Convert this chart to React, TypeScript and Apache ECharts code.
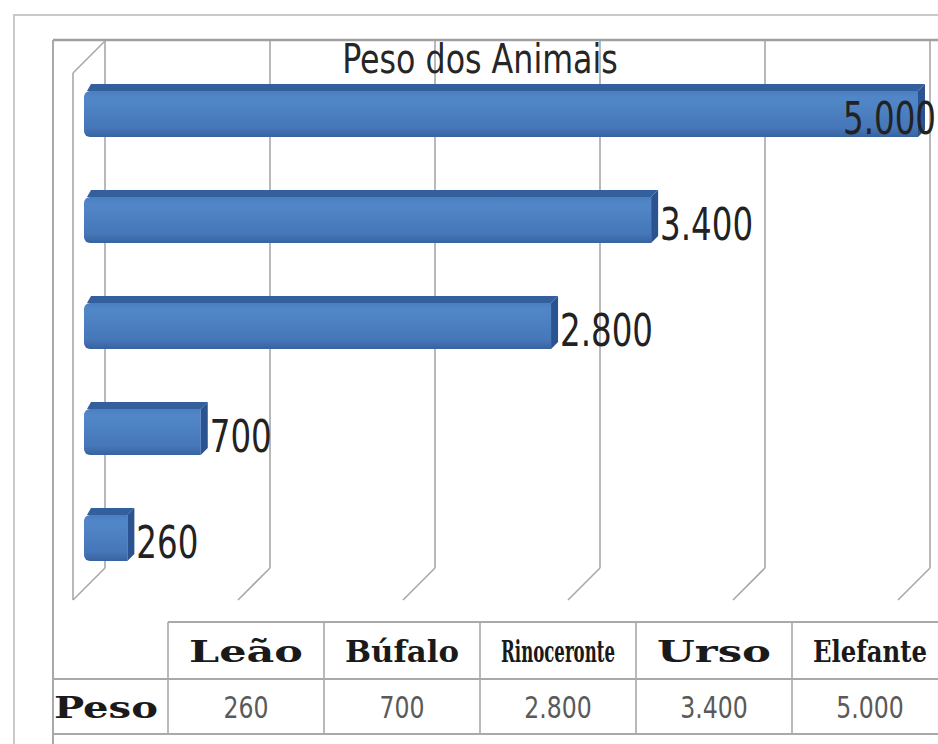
import React, { useEffect, useRef } from "react";
import * as echarts from "echarts";

const categories = ["Leão", "Búfalo", "Rinoceronte", "Urso", "Elefante"];
const weights = [260, 700, 2800, 3400, 5000];
const axisTicks = [0, 1000, 2000, 3000, 4000, 5000];
const chartTitle = "Peso dos Animais";
const rowLabel = "Peso";

const fmt = (v: number) => String(v).replace(/\B(?=(\d{3})+(?!\d))/g, ".");

const W = 938;
const H = 744;
const DEPTH = 7;
const WALL = 32;
const BAR_H = 46;
const NARROW = "'Liberation Sans Narrow', 'DejaVu Sans Condensed', 'Arial Narrow', sans-serif";
const SERIF = "'DejaVu Serif', 'Liberation Serif', serif";
const GRID_COLOR = "#a8a8a8";
const LINE_COLOR = "#a9a9a9";

let ctx: CanvasRenderingContext2D | null = null;
function measure(text: string, font: string): number {
  if (!ctx) ctx = document.createElement("canvas").getContext("2d");
  if (!ctx) return text.length * 10;
  ctx.font = font;
  return ctx.measureText(text).width;
}

export default function App() {
  const ref = useRef<HTMLDivElement>(null);

  useEffect(() => {
    if (!ref.current) return;
    const chart = echarts.init(ref.current, undefined, { renderer: "svg" });

    const LABEL_SIZE = 44;
    const labelFont = `${LABEL_SIZE}px ${NARROW}`;
    const labelScale = 93 / measure("3.400", labelFont);

    const titleFont = `41px ${NARROW}`;
    const titleScale = 276 / measure(chartTitle, titleFont);

    // table layout
    const tLeft = 168;
    const colW = 156;
    const frameLeft = 53;
    const hTop = 622;
    const hMid = 679;
    const hBot = 734;
    const headFontSize = 29;
    const headFont = `bold ${headFontSize}px ${SERIF}`;
    const numFont = `31px ${NARROW}`;
    const numScale = 45 / measure("260", numFont);

    const tableEls: any[] = [];
    tableEls.push({ type: "line", shape: { x1: tLeft, y1: hTop, x2: W + 5, y2: hTop }, style: { stroke: LINE_COLOR, lineWidth: 2 } });
    tableEls.push({ type: "line", shape: { x1: frameLeft, y1: hMid, x2: W + 5, y2: hMid }, style: { stroke: LINE_COLOR, lineWidth: 2 } });
    tableEls.push({ type: "line", shape: { x1: frameLeft, y1: hBot, x2: W + 5, y2: hBot }, style: { stroke: LINE_COLOR, lineWidth: 2 } });
    for (let i = 0; i < categories.length; i++) {
      const x = tLeft + i * colW;
      tableEls.push({ type: "line", shape: { x1: x, y1: hTop, x2: x, y2: hBot }, style: { stroke: LINE_COLOR, lineWidth: 1.6 } });
      const cx = x + colW / 2;
      const tw = measure(categories[i], headFont);
      tableEls.push({
        type: "text",
        x: cx,
        y: 652,
        scaleX: 114 / tw,
        style: { text: categories[i], x: 0, y: 0, align: "center", verticalAlign: "middle", font: headFont, fill: "#1a1a1a" },
      });
      tableEls.push({
        type: "text",
        x: cx,
        y: 707,
        scaleX: numScale,
        style: { text: fmt(weights[i]), x: 0, y: 0, align: "center", verticalAlign: "middle", font: numFont, fill: "#5a5a5a" },
      });
    }
    {
      const tw = measure(rowLabel, headFont);
      tableEls.push({
        type: "text",
        x: frameLeft + 1,
        y: 708,
        scaleX: 104 / tw,
        style: { text: rowLabel, x: 0, y: 0, align: "left", verticalAlign: "middle", font: headFont, fill: "#1a1a1a" },
      });
    }

    const option: any = {
      animation: false,
      backgroundColor: "#ffffff",
      grid: [
        { left: 105, right: 8, top: 41, bottom: 176 },
        { left: 84, right: 20, top: 61, bottom: 153 },
      ],
      xAxis: [
        {
          gridIndex: 0,
          type: "value",
          min: 0,
          max: 5000,
          interval: 1000,
          axisLine: { show: false },
          axisTick: { show: false },
          axisLabel: { show: false },
          splitLine: { show: true, lineStyle: { color: GRID_COLOR, width: 1.6 } },
        },
        { gridIndex: 1, type: "value", min: 0, max: 5000, show: false, splitLine: { show: false } },
      ],
      yAxis: [
        { gridIndex: 0, type: "value", min: 0, max: 1, show: false, splitLine: { show: false } },
        { gridIndex: 1, type: "category", data: categories, show: false },
      ],
      graphic: [
        { type: "rect", shape: { x: 14, y: 15, width: W, height: H }, style: { fill: "none", stroke: "#c9c9c9", lineWidth: 2 }, silent: true },
        { type: "line", shape: { x1: frameLeft, y1: 40, x2: W + 5, y2: 40 }, style: { stroke: "#a0a0a0", lineWidth: 2.5 } },
        { type: "line", shape: { x1: frameLeft, y1: 40, x2: frameLeft, y2: H + 5 }, style: { stroke: "#a9a9a9", lineWidth: 2 } },
        {
          type: "text",
          x: 480,
          y: 59,
          scaleX: titleScale,
          z: 10,
          style: { text: chartTitle, x: 0, y: 0, align: "center", verticalAlign: "middle", font: titleFont, fill: "#262626" },
        },
        ...tableEls,
      ],
      series: [
        {
          type: "custom",
          name: "walls",
          xAxisIndex: 0,
          yAxisIndex: 0,
          clip: false,
          silent: true,
          data: axisTicks.map((t) => [t, 0]),
          renderItem: (params: any, api: any) => {
            const v = api.value(0);
            const b = api.coord([v, 0]);
            const t = api.coord([v, 1]);
            const st = { stroke: GRID_COLOR, lineWidth: 1.6 };
            const children: any[] = [
              { type: "line", shape: { x1: b[0], y1: b[1], x2: b[0] - WALL, y2: b[1] + WALL }, style: st },
            ];
            if (v === 0) {
              children.push({ type: "line", shape: { x1: b[0] - WALL, y1: t[1] + WALL, x2: b[0] - WALL, y2: b[1] + WALL }, style: st });
              children.push({ type: "line", shape: { x1: b[0] - WALL, y1: t[1] + WALL, x2: t[0], y2: t[1] }, style: st });
            }
            return { type: "group", children };
          },
        },
        {
          type: "custom",
          name: "Peso",
          xAxisIndex: 1,
          yAxisIndex: 1,
          clip: false,
          data: weights.map((w, i) => [w, i]),
          renderItem: (params: any, api: any) => {
            const v = api.value(0);
            const i = api.value(1);
            const p0 = api.coord([0, i]);
            const p1 = api.coord([v, i]);
            const x0 = p0[0];
            const x1 = p1[0];
            const y0 = p1[1] - BAR_H / 2;
            const grad = new echarts.graphic.LinearGradient(0, 0, 0, 1, [
              { offset: 0, color: "#4a7ec0" },
              { offset: 0.15, color: "#5187c8" },
              { offset: 0.8, color: "#4677b8" },
              { offset: 1, color: "#3862a0" },
            ]);
            const text = fmt(v);
            const tw = measure(text, labelFont) * labelScale;
            let lx = x1 + DEPTH + 2;
            let align = "left";
            if (lx + tw > W - 2) {
              lx = W - 2;
              align = "right";
            }
            return {
              type: "group",
              children: [
                { type: "rect", shape: { x: x0, y: y0, width: x1 - x0, height: BAR_H, r: [6, 0, 0, 6] }, style: { fill: grad } },
                {
                  type: "polygon",
                  shape: { points: [[x0 + 3, y0], [x0 + DEPTH, y0 - DEPTH], [x1 + DEPTH, y0 - DEPTH], [x1, y0]] },
                  style: { fill: "#33609d" },
                },
                {
                  type: "polygon",
                  shape: { points: [[x1, y0], [x1 + DEPTH, y0 - DEPTH], [x1 + DEPTH, y0 + BAR_H - DEPTH], [x1, y0 + BAR_H]] },
                  style: { fill: "#2b5390" },
                },
                {
                  type: "text",
                  x: lx,
                  y: p1[1] + 5,
                  scaleX: labelScale,
                  z2: 5,
                  style: { text, x: 0, y: 0, align, verticalAlign: "middle", font: labelFont, fill: "#222222" },
                },
              ],
            };
          },
        },
      ],
    };

    chart.setOption(option);
    return () => chart.dispose();
  }, []);

  return (
    <div
      ref={ref}
      style={{ position: "fixed", left: 0, top: 0, width: W, height: H, background: "#fff" }}
    />
  );
}
